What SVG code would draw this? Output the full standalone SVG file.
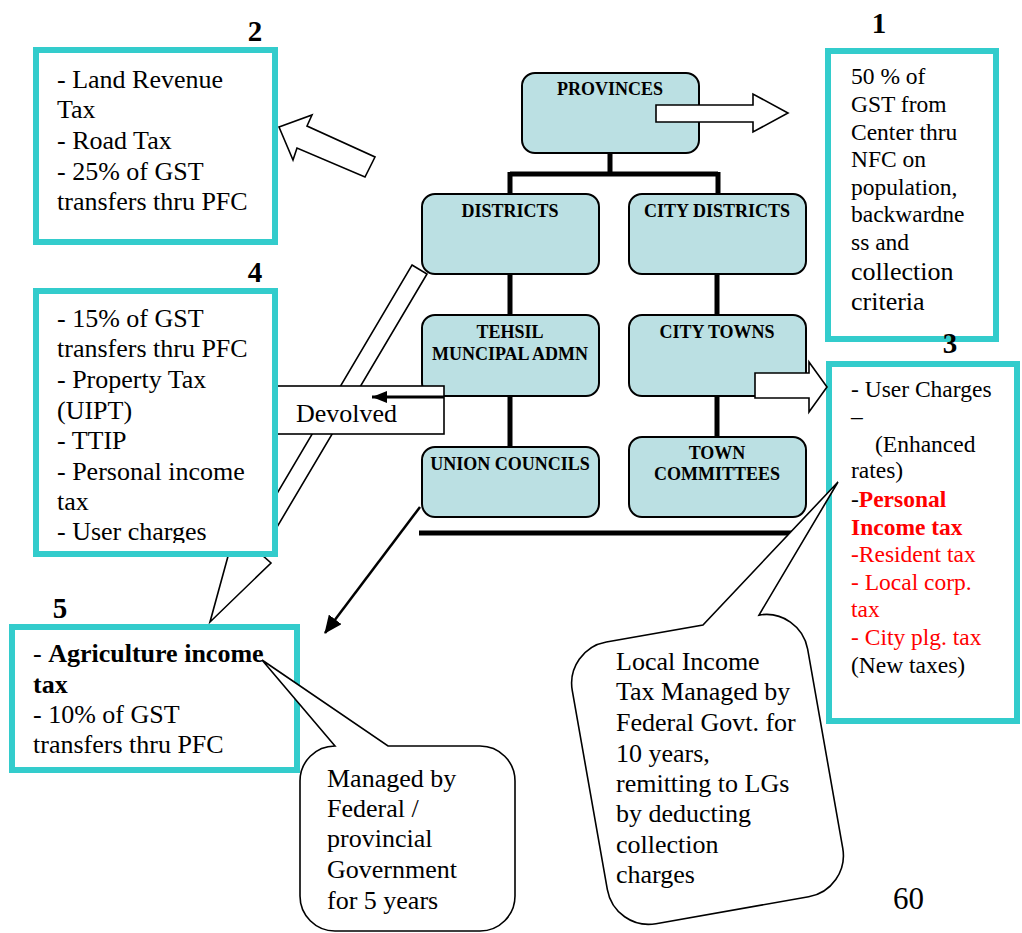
<svg xmlns="http://www.w3.org/2000/svg" width="1022" height="933" viewBox="0 0 1022 933">
<style>
text{font-family:"Liberation Serif","Times New Roman",serif;fill:#000}
.t{font-size:26px}
.t1{font-size:23.5px}
.t3{font-size:23.5px}
.org{fill:#BBE0E3;stroke:#000;stroke-width:2}
.ot{font-size:18px;font-weight:bold;text-anchor:middle}
.conn{stroke:#000;stroke-width:5;fill:none}
.tb{fill:#fff;stroke:#33CCCC;stroke-width:6}
.blk{fill:#fff;stroke:#000;stroke-width:1.6}
.lbl{font-size:29px;font-weight:bold;text-anchor:middle}
.red{fill:#FF0000}
.b{font-weight:bold}
</style>
<defs>
<marker id="ahs" markerWidth="15" markerHeight="12" refX="15" refY="6" orient="auto" markerUnits="userSpaceOnUse" viewBox="0 0 15 12">
<path d="M0,0 L15,6 L0,12 z" fill="#000"/>
</marker>
<marker id="ah2" markerWidth="18" markerHeight="16" refX="17" refY="8" orient="auto" markerUnits="userSpaceOnUse" viewBox="0 0 18 16">
<path d="M0,0 L18,8 L0,16 z" fill="#000"/>
</marker>
<clipPath id="c4"><rect x="39" y="294" width="233" height="249"/></clipPath>
</defs>

<g id="connectors">
<path class="conn" d="M610,153 V174 M510,174 H718 M510,172 V194 M718,172 V194 M510,274 V315 M717,274 V315 M510,396 V447 M717,396 V437 M419,533 H793"/>
</g>

<g id="provinces"><rect class="org" x="522" y="73" width="177" height="80" rx="13"/><text class="ot" x="610" y="95">PROVINCES</text></g>
<g id="districts"><rect class="org" x="422" y="194" width="177" height="80" rx="13"/><text class="ot" x="510" y="217">DISTRICTS</text></g>
<g id="city-districts"><rect class="org" x="629" y="194" width="177" height="80" rx="13"/><text class="ot" x="717" y="217">CITY DISTRICTS</text></g>
<g id="tehsil"><rect class="org" x="422" y="315" width="177" height="81" rx="13"/><text class="ot" x="510" y="338">TEHSIL</text><text class="ot" x="510" y="360">MUNCIPAL ADMN</text></g>
<g id="city-towns"><rect class="org" x="629" y="315" width="177" height="81" rx="13"/><text class="ot" x="717" y="338">CITY TOWNS</text></g>
<g id="union-councils"><rect class="org" x="422" y="447" width="177" height="70" rx="13"/><text class="ot" x="510" y="470">UNION COUNCILS</text></g>
<g id="town-committees"><rect class="org" x="629" y="437" width="177" height="80" rx="13"/><text class="ot" x="717" y="459">TOWN</text><text class="ot" x="717" y="480">COMMITTEES</text></g>

<g id="arrow-districts-to-5">
<polygon class="blk" points="412,265 427,274 261,554 271,563 210,622 233,538 246,546"/>
</g>

<g id="devolved">
<rect class="blk" x="277" y="386" width="167" height="48"/>
<text class="t" x="296" y="422">Devolved</text>
<line x1="444" y1="397" x2="372" y2="397" stroke="#000" stroke-width="3" marker-end="url(#ahs)"/>
</g>

<g id="box2">
<rect class="tb" x="36" y="50" width="239" height="192"/>
<text class="t" x="57" y="88">- Land Revenue</text>
<text class="t" x="57" y="118">Tax</text>
<text class="t" x="57" y="149">- Road Tax</text>
<text class="t" x="57" y="180">- 25% of GST</text>
<text class="t" x="57" y="210">transfers thru PFC</text>
</g>

<g id="box4">
<rect class="tb" x="36" y="291" width="239" height="263"/>
<g clip-path="url(#c4)">
<text class="t" x="57" y="327">- 15% of GST</text>
<text class="t" x="57" y="357">transfers thru PFC</text>
<text class="t" x="57" y="388">- Property Tax</text>
<text class="t" x="57" y="419">(UIPT)</text>
<text class="t" x="57" y="449">- TTIP</text>
<text class="t" x="57" y="480">- Personal income</text>
<text class="t" x="57" y="510">tax</text>
<text class="t" x="57" y="540">- User charges</text>
</g>
</g>

<g id="box5">
<rect class="tb" x="12" y="627" width="285" height="143"/>
<text class="t" x="33" y="662">- <tspan class="b">Agriculture income</tspan></text>
<text class="t b" x="33" y="693">tax</text>
<text class="t" x="33" y="723">- 10% of GST</text>
<text class="t" x="33" y="753">transfers thru PFC</text>
</g>

<g id="box1">
<rect class="tb" x="828" y="51" width="168" height="288"/>
<text class="t1" x="851" y="84">50 % of</text>
<text class="t1" x="851" y="112">GST from</text>
<text class="t1" x="851" y="140">Center thru</text>
<text class="t1" x="851" y="167">NFC on</text>
<text class="t1" x="851" y="195">population,</text>
<text class="t1" x="851" y="222">backwardne</text>
<text class="t1" x="851" y="250">ss and</text>
<text class="t" x="851" y="280">collection</text>
<text class="t" x="851" y="310">criteria</text>
</g>

<g id="box3">
<rect class="tb" x="829" y="364" width="188" height="357"/>
<text class="t3" x="851" y="397">- User Charges</text>
<text class="t3" x="851" y="424">–</text>
<text class="t3" x="875" y="452">(Enhanced</text>
<text class="t3" x="851" y="478">rates)</text>
<text class="t3" x="851" y="507">-<tspan class="red b">Personal</tspan></text>
<text class="t3 red b" x="851" y="535">Income tax</text>
<text class="t3 red" x="851" y="562">-Resident tax</text>
<text class="t3 red" x="851" y="590">- Local corp.</text>
<text class="t3 red" x="851" y="617">tax</text>
<text class="t3 red" x="851" y="645">- City plg. tax</text>
<text class="t3" x="851" y="673">(New taxes)</text>
</g>

<g id="block-arrows">
<polygon class="blk" points="656,105 753,105 753,94 788,113 753,132 753,122 656,122"/>
<polygon class="blk" points="755,373 809,373 809,362 827,387 809,412 809,398 755,398"/>
<polygon class="blk" points="279,127 312,115 307,126 375,157 365,177 297,148 293,160"/>
</g>

<g id="arrow-union-to-5">
<line x1="420" y1="507" x2="325" y2="633" stroke="#000" stroke-width="2.5" marker-end="url(#ah2)"/>
</g>

<g id="callout-left">
<path class="blk" d="M335,746 L262,660 L388,746 L480,746 A35,35 0 0 1 515,781 L515,896 A35,35 0 0 1 480,931 L335,931 A35,35 0 0 1 300,896 L300,781 A35,35 0 0 1 335,746 Z"/>
<text class="t" x="327" y="787">Managed by</text>
<text class="t" x="327" y="817">Federal /</text>
<text class="t" x="327" y="847">provincial</text>
<text class="t" x="327" y="878">Government</text>
<text class="t" x="327" y="909">for 5 years</text>
</g>

<g id="callout-right">
<path class="blk" transform="rotate(-10 710 772)" d="M630.5,626 L728.6,626 L886.4,508.6 L785.5,626 A42,42 0 0 1 827.5,668 L827.5,870 A42,42 0 0 1 785.5,912 L630.5,912 A42,42 0 0 1 588.5,870 L588.5,668 A42,42 0 0 1 630.5,626 Z"/>
<text class="t" x="616" y="670">Local Income</text>
<text class="t" x="616" y="700">Tax Managed by</text>
<text class="t" x="616" y="731">Federal Govt. for</text>
<text class="t" x="616" y="762">10 years,</text>
<text class="t" x="616" y="792">remitting to LGs</text>
<text class="t" x="616" y="822">by deducting</text>
<text class="t" x="616" y="853">collection</text>
<text class="t" x="616" y="883">charges</text>
</g>

<g id="labels">
<text class="lbl" x="255" y="41">2</text>
<text class="lbl" x="879" y="33">1</text>
<text class="lbl" x="255" y="282">4</text>
<text class="lbl" x="950" y="353">3</text>
<text class="lbl" x="60" y="618">5</text>
<text x="893" y="909" style="font-size:31px">60</text>
</g>
</svg>
